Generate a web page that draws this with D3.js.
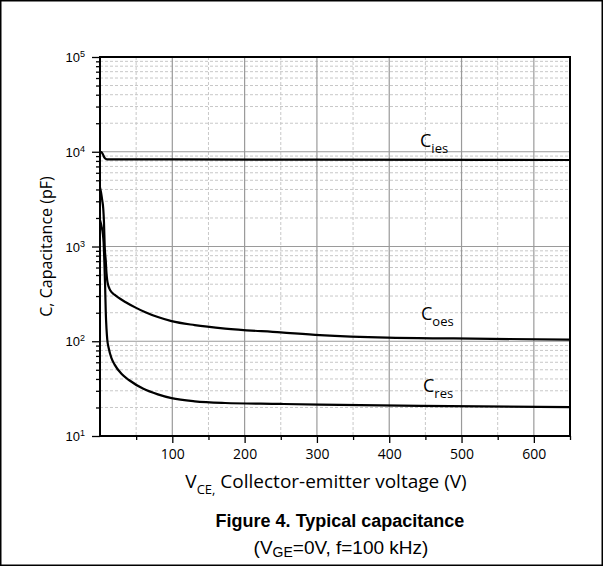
<!DOCTYPE html>
<html><head><meta charset="utf-8">
<script src="https://cdn.jsdelivr.net/npm/d3@7"></script>
<style>body{margin:0;background:#fff}svg{display:block}</style>
</head><body>
<svg id="c" width="603" height="566"></svg>
<script>
// Data (V, pF)
const ciesV = [0, 2, 4, 6, 8, 10, 100, 300, 650];
const ciesC = [10000, 9900, 9400, 8700, 8400, 8300, 8300, 8250, 8180];
const coesV = [0, 1.5, 3, 4.5, 5.5, 6.5, 8, 9, 10, 11, 13, 16, 20, 25, 35, 50, 62, 80, 99, 131, 173, 250, 304, 397, 489, 650];
const coesC = [4200, 3700, 3100, 2500, 1800, 1000, 700, 520, 440, 400, 360, 330, 310, 290, 260, 225, 204, 180, 163, 148, 136, 124, 116, 109, 107, 104];
const cresV = [0, 2, 4, 5, 6, 7, 8, 9, 10, 12, 16, 20, 30, 40, 60, 80, 99, 131, 173, 250, 304, 443, 650];
const cresC = [1900, 1650, 1350, 1100, 700, 400, 200, 135, 105, 85, 66, 57, 45, 39, 31.5, 27.5, 25.1, 23.2, 22.3, 21.8, 21.4, 20.8, 20.2];
const xTicks = [100, 200, 300, 400, 500, 600];
const xMinor = [50, 150, 250, 350, 450, 550, 650];
const yTickExp = [1, 2, 3, 4, 5];
const seriesLabels = [["C", "ies"], ["C", "oes"], ["C", "res"]];

const svg = d3.select("#c");
const L = 100, R = 570, T = 57, B = 436;
const x = d3.scaleLinear().domain([0, 650]).range([L, R]);
const y = d3.scaleLog().domain([10, 1e5]).range([B, T]);

// border
svg.append("rect").attr("x", 0.75).attr("y", 0.75).attr("width", 601.5).attr("height", 564.5)
  .attr("fill", "none").attr("stroke", "#000").attr("stroke-width", 1.5);

// grid
const g = svg.append("g");
const minorY = [];
for (let d = 1; d <= 4; d++) for (let k = 2; k <= 9; k++) minorY.push(k * Math.pow(10, d));
g.selectAll(".hmin").data(minorY).join("line")
  .attr("x1", L).attr("x2", R).attr("y1", d => y(d)).attr("y2", d => y(d))
  .attr("stroke", "#c8c8c8").attr("stroke-width", 1).attr("stroke-dasharray", "3,2");
g.selectAll(".vmin").data(xMinor.filter(v => v < 650)).join("line")
  .attr("y1", T).attr("y2", B).attr("x1", d => x(d)).attr("x2", d => x(d))
  .attr("stroke", "#c8c8c8").attr("stroke-width", 1).attr("stroke-dasharray", "3,2");
g.selectAll(".hmaj").data([100, 1000, 10000]).join("line")
  .attr("x1", L).attr("x2", R).attr("y1", d => y(d)).attr("y2", d => y(d))
  .attr("stroke", "#9a9a9a").attr("stroke-width", 1.2);
g.selectAll(".vmaj").data(xTicks).join("line")
  .attr("y1", T).attr("y2", B).attr("x1", d => x(d)).attr("x2", d => x(d))
  .attr("stroke", "#9a9a9a").attr("stroke-width", 1.2);

// curves
const line = d3.line().x(d => x(d[0])).y(d => y(d[1])).curve(d3.curveMonotoneX);
[[ciesV, ciesC], [coesV, coesC], [cresV, cresC]].forEach(([vs, cs]) => {
  svg.append("path").datum(vs.map((v, i) => [v, cs[i]]))
    .attr("d", line).attr("fill", "none").attr("stroke", "#000").attr("stroke-width", 2.2);
});

// axes
const xAxis = svg.append("g").attr("transform", `translate(0,${B})`)
  .call(d3.axisBottom(x).tickValues(xTicks).tickSize(7).tickPadding(6).tickFormat(d3.format("d")));
const xAxisMinor = svg.append("g").attr("transform", `translate(0,${B})`)
  .call(d3.axisBottom(x).tickValues(xMinor).tickSize(4).tickFormat(""));
xAxis.selectAll("text").attr("font-family", "Open Sans").attr("font-size", 14).attr("fill", "#000");
[xAxis, xAxisMinor].forEach(a => { a.select(".domain").remove(); a.selectAll("line").attr("stroke-width", 1.3); });

const yAxis = svg.append("g").attr("transform", `translate(${L},0)`)
  .call(d3.axisLeft(y).tickValues(yTickExp.map(e => Math.pow(10, e))).tickSize(8).tickFormat(""));
const yAxisMinor = svg.append("g").attr("transform", `translate(${L},0)`)
  .call(d3.axisLeft(y).tickValues(minorY).tickSize(4).tickFormat(""));
[yAxis, yAxisMinor].forEach(a => { a.select(".domain").remove(); a.selectAll("line").attr("stroke-width", 1.3); });
yAxis.selectAll(".tick").each(function (d) {
  const t = d3.select(this).append("text").attr("x", -15).attr("y", 0).attr("dy", "0.35em")
    .attr("text-anchor", "end").attr("font-family", "Liberation Sans, Arial").attr("font-size", 13).attr("fill", "#000");
  t.append("tspan").text("10");
  t.append("tspan").attr("font-size", 9).attr("dy", "-0.55em").text(Math.round(Math.log10(d)));
});

// frame
svg.append("rect").attr("x", L).attr("y", T).attr("width", R - L).attr("height", B - T)
  .attr("fill", "none").attr("stroke", "#000").attr("stroke-width", 2);

// series labels
const labPos = [[420, 147], [421, 320], [423, 392]];
seriesLabels.forEach((s, i) => {
  const t = svg.append("text").attr("x", labPos[i][0]).attr("y", labPos[i][1])
    .attr("font-family", "Open Sans").attr("font-size", 18).attr("fill", "#000");
  t.append("tspan").text(s[0]);
  t.append("tspan").attr("font-size", 13).attr("dy", 6).text(s[1]);
});

// axis titles
const xt = svg.append("text").attr("x", 326).attr("y", 488).attr("text-anchor", "middle")
  .attr("font-family", "Open Sans").attr("font-size", 19).attr("fill", "#000");
xt.append("tspan").text("V");
xt.append("tspan").attr("font-size", 13).attr("dy", 6).text("CE,");
xt.append("tspan").attr("dy", -6).text(" Collector-emitter voltage (V)");

svg.append("text").attr("transform", `translate(52,${(T + B) / 2}) rotate(-90)`)
  .attr("text-anchor", "middle").attr("font-family", "Open Sans").attr("font-size", 16).attr("fill", "#000")
  .text("C, Capacitance (pF)");

// figure title
svg.append("text").attr("x", 340).attr("y", 527).attr("text-anchor", "middle")
  .attr("font-family", "Liberation Sans, Arial").attr("font-weight", "bold").attr("font-size", 18).attr("fill", "#000")
  .text("Figure 4. Typical capacitance");
const st = svg.append("text").attr("x", 341).attr("y", 554).attr("text-anchor", "middle")
  .attr("font-family", "Liberation Sans, Arial").attr("font-size", 19).attr("fill", "#000");
st.append("tspan").text("(V");
st.append("tspan").attr("font-size", 14).attr("dy", 3).text("GE");
st.append("tspan").attr("dy", -3).text("=0V, f=100 kHz)");
</script>
</body></html>
